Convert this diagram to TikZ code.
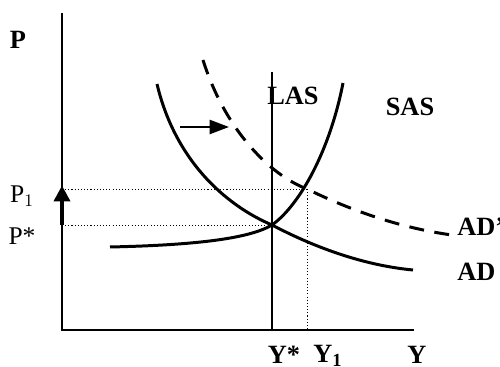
\documentclass[tikz,border=0pt]{standalone}
\usepackage{fontspec}
\setmainfont{Liberation Serif}
\usetikzlibrary{arrows.meta}
\begin{document}
\begin{tikzpicture}[x=0.02cm,y=-0.02cm,
  axis/.style={line width=1.1pt},
  curve/.style={line width=1.7pt},
  dashcurve/.style={line width=1.7pt, dash pattern=on 8.5pt off 6pt},
  guide/.style={line width=0.5pt, dash pattern=on 0.6pt off 1.2pt},
  blab/.style={font=\fontsize{15}{17}\selectfont\bfseries, inner sep=0pt},
  rlab/.style={font=\fontsize{14.5}{16}\selectfont, inner sep=0pt}]
\useasboundingbox (0,0) rectangle (500,367);
% key coordinates
\coordinate (O) at (62,330);
\coordinate (Ytop) at (62,13);
\coordinate (Xend) at (414,330);
\coordinate (E) at (272,225);
\coordinate (E1) at (307,189);
\coordinate (Pstar) at (62,225);
\coordinate (Pone) at (62,189);
\coordinate (LAStop) at (272,72);
\coordinate (LASbot) at (272,330);
\coordinate (Y1bot) at (307,330);
\coordinate (SAS0) at (110,247);
\coordinate (SAS1) at (343,83);
\coordinate (AD0) at (157,84);
\coordinate (AD1) at (413,270);
\coordinate (ADp0) at (203,60);
\coordinate (ADp1) at (452,235);
\coordinate (sh0) at (180,127);
\coordinate (sh1) at (229,127);
% guides
\draw[guide] (Pone) -- (E1);
\draw[guide] (Pstar) -- (E);
\draw[guide] (E1) -- (Y1bot);
% axes
\draw[axis] (Ytop) -- (O) -- (Xend);
\draw[line width=0.8pt] (LAStop) -- (LASbot);
% curves
\draw[curve] (SAS0) .. controls (200,245) and (250,238) .. (E)
  .. controls (300,205) and (330,150) .. (SAS1);
\draw[curve] (AD0) .. controls (175,160) and (225,205) .. (E)
  .. controls (310,245) and (360,265) .. (AD1);
\draw[dashcurve] (ADp0) .. controls (225,130) and (270,175) .. (E1)
  .. controls (350,210) and (400,228) .. (ADp1);
% arrows
\draw[line width=1.2pt, -{Triangle[length=11pt,width=8pt]}] (sh0) -- (sh1);
\draw[line width=2.2pt, -{Triangle[length=9pt,width=9pt]}] (Pstar) -- ([yshift=2pt]Pone);
% labels
\node[blab] (lP) at (18,40) {P};
\node[rlab] (lP1) at (22,196) {P$_1$};
\node[rlab] (lPs) at (22,236) {P*};
\node[blab] (lLAS) at (293,96) {LAS};
\node[blab] (lSAS) at (410,107) {SAS};
\node[blab, anchor=west] (lADp) at (457,227) {AD'};
\node[blab, anchor=west] (lAD) at (457,272) {AD};
\node[blab] (lYs) at (284,355) {Y*};
\node[blab] (lY1) at (328,356) {Y$_{\mathbf{1}}$};
\node[blab] (lY) at (417,355) {Y};
\end{tikzpicture}
\end{document}
